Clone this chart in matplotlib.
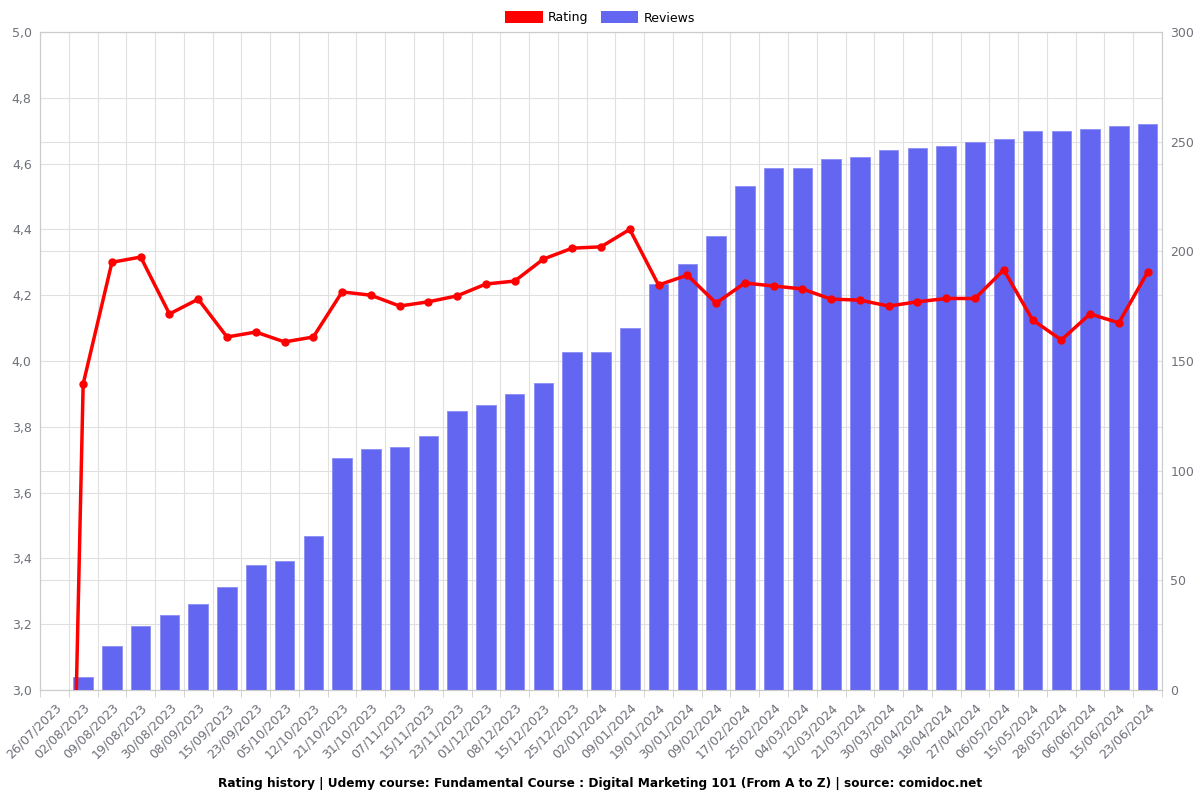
import numpy as np
import matplotlib
matplotlib.use("Agg")
import matplotlib.pyplot as plt
from matplotlib.patches import Patch
from matplotlib.ticker import FuncFormatter

dates = ["26/07/2023", "02/08/2023", "09/08/2023", "19/08/2023", "30/08/2023", "08/09/2023",
         "15/09/2023", "23/09/2023", "05/10/2023", "12/10/2023", "21/10/2023", "31/10/2023",
         "07/11/2023", "15/11/2023", "23/11/2023", "01/12/2023", "08/12/2023", "15/12/2023",
         "25/12/2023", "02/01/2024", "09/01/2024", "19/01/2024", "30/01/2024", "09/02/2024",
         "17/02/2024", "25/02/2024", "04/03/2024", "12/03/2024", "21/03/2024", "30/03/2024",
         "08/04/2024", "18/04/2024", "27/04/2024", "06/05/2024", "15/05/2024", "28/05/2024",
         "06/06/2024", "15/06/2024", "23/06/2024"]

rating = [0, 3.93, 4.30, 4.316, 4.143, 4.188, 4.073, 4.088, 4.058, 4.073, 4.21, 4.20,
          4.167, 4.18, 4.198, 4.234, 4.243, 4.31, 4.343, 4.347, 4.40, 4.231, 4.261, 4.176,
          4.237, 4.228, 4.219, 4.188, 4.185, 4.167, 4.18, 4.19, 4.19, 4.277, 4.125, 4.064,
          4.143, 4.116, 4.27]

reviews = [0, 6, 20, 29, 34, 39, 47, 57, 59, 70, 106, 110, 111, 116, 127, 130, 135, 140,
           154, 154, 165, 185, 194, 207, 230, 238, 238, 242, 243, 246, 247, 248, 250, 251,
           255, 255, 256, 257, 258]

title = "Rating history | Udemy course: Fundamental Course : Digital Marketing 101 (From A to Z) | source: comidoc.net"

red = "#ff0000"
blue = "#6366f1"
grey_txt = "#6e7079"
grid_col = "#e0e0e0"

r_lim = (3.0, 5.0)
n_lim = (0, 300)
r_ticks = np.arange(3.0, 5.01, 0.2)
n_ticks = np.arange(0, 301, 50)

x = np.arange(len(dates))
bounds = np.arange(-0.5, len(dates), 1)

fig = plt.figure(figsize=(12, 8), dpi=100)
ax = fig.add_axes([40/1200, 1-690/800, 1122/1200, 658/800])
ax2 = ax.twinx()

# lower axes (ax2): bars + all grid lines; upper axes (ax): rating line
ax2.bar(x, reviews, width=0.68, color=blue, edgecolor="#8a8df4", linewidth=0.6, zorder=3)
ax2.set_ylim(*n_lim)
ax2.set_yticks(n_ticks)
# rating grid lines expressed in the reviews scale so they sit behind the bars
to_n = lambda r: (r - r_lim[0]) / (r_lim[1] - r_lim[0]) * (n_lim[1] - n_lim[0])
ax2.set_yticks(to_n(r_ticks), minor=True)
ax2.tick_params(axis="y", which="minor", length=0)
ax2.yaxis.grid(True, which="both", color=grid_col, linewidth=0.8, zorder=0)
for b in bounds:
    ax2.axvline(b, color=grid_col, linewidth=0.8, zorder=0)
ax2.set_axisbelow(True)

ax.set_zorder(ax2.get_zorder() + 1)
ax.patch.set_visible(False)
ax.plot(x, rating, color=red, linewidth=2.5, marker="o", markersize=5, zorder=5)
ax.set_ylim(*r_lim)
ax.set_yticks(r_ticks)
ax.yaxis.set_major_formatter(FuncFormatter(lambda v, p: f"{v:.1f}".replace(".", ",")))
ax.set_xlim(-0.5, len(dates) - 0.5)
ax.set_xticks(x)
ax.set_xticklabels(dates, rotation=45, ha="right", rotation_mode="anchor")
ax.set_xticks(bounds, minor=True)
ax.tick_params(axis="x", which="major", length=0, pad=8)
ax.tick_params(axis="x", which="minor", length=5, color="#cccccc")

for a in (ax, ax2):
    for s in a.spines.values():
        s.set_color("#cccccc")
    a.tick_params(axis="y", which="major", length=0, colors=grey_txt, labelsize=9, pad=6)
    a.tick_params(axis="x", colors=grey_txt, labelsize=9)

handles = [Patch(facecolor=red, label="Rating"), Patch(facecolor=blue, label="Reviews")]
fig.legend(handles=handles, loc="upper center", bbox_to_anchor=(0.5, 1.0), ncol=2,
           frameon=False, fontsize=9, handlelength=3, handleheight=1.1, columnspacing=1.0,
           handletextpad=0.4)

fig.text(0.5, 1 - 783/800, title, ha="center", va="center", fontsize=8.7, fontweight="bold")

fig.savefig("out.png", dpi=100)
